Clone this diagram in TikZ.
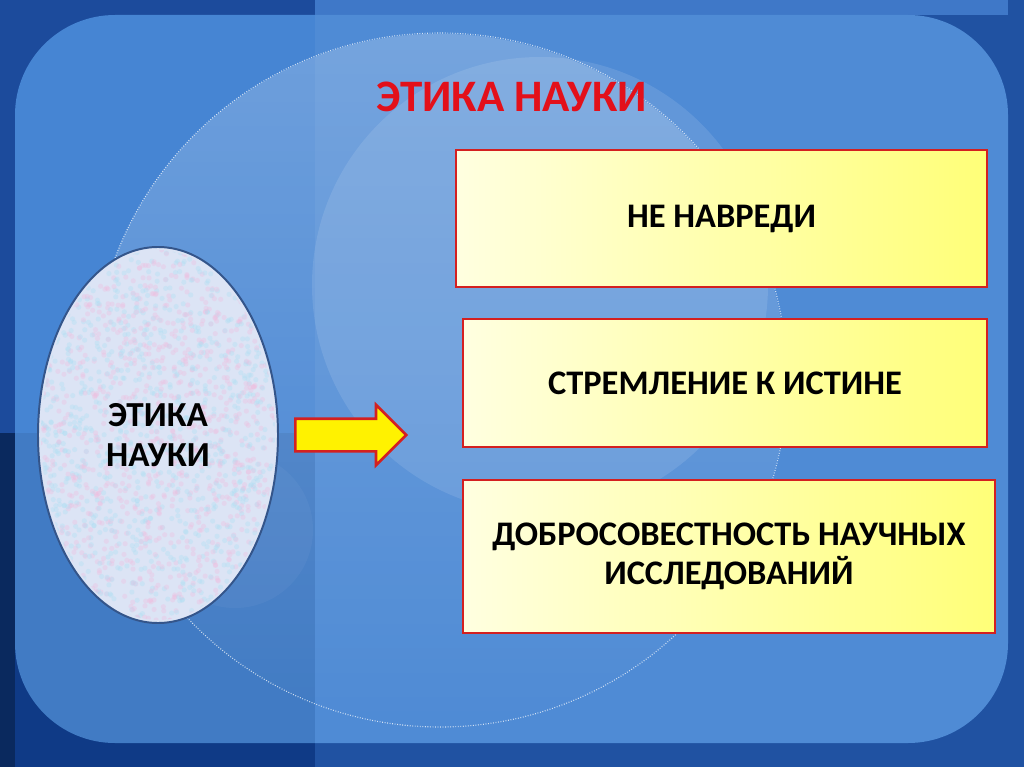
\documentclass[tikz,border=0pt]{standalone}
\usepackage{fontspec}
\setmainfont{Carlito}
\usepackage{tikz}
\usetikzlibrary{calc, shapes.geometric, shapes.arrows, positioning, fadings}

\definecolor{frameblue}{HTML}{2052A2}
\definecolor{framedark}{HTML}{1C4B9C}
\definecolor{framedeep}{HTML}{0F3A86}
\definecolor{framelight}{HTML}{3F78C8}
\definecolor{panelblue}{HTML}{4685D3}
\definecolor{titlered}{HTML}{E3101A}
\definecolor{boxred}{HTML}{D42020}
\definecolor{boxlight}{HTML}{FFFFE0}
\definecolor{boxyellow}{HTML}{FFFF78}
\definecolor{ovalfill}{HTML}{DCE4F5}
\definecolor{ovalline}{HTML}{34558A}
\definecolor{specklepink}{HTML}{F0BEDF}
\definecolor{specklecyan}{HTML}{AEDFF3}

\newcommand{\px}{0.025cm}

\tikzset{
    titlenode/.style = {draw=none, fill=none, inner sep=0em, text=titlered,
      font=\fontsize{32}{38}\selectfont\bfseries},
    textnode/.style  = {draw=none, fill=none, rectangle, inner sep=0em,
      font=\fontsize{25}{28.4}\selectfont\bfseries},
    boxnode/.style = {draw=boxred, line width=1.8pt, rectangle, left color=boxlight,
      right color=boxyellow, inner sep=0em, font=\fontsize{24.5}{28}\selectfont\bfseries},
    ovalnode/.style = {draw=ovalline, line width=1.4pt, ellipse, fill=ovalfill, inner sep=0em},
    arrownode/.style = {single arrow, draw=boxred, fill=yellow, line width=1.8pt,
      inner sep=0em, text height=30*\px, text depth=0pt, minimum height=111*\px,
      single arrow head extend=14*\px},
    every text node part/.style={align=center}
}

\begin{document}
\begin{tikzpicture}[x=0.025cm, y=-0.025cm]
    % frame and panel
    \fill[frameblue] (0,0) rectangle (1024,767);
    \fill[framedark] (0,0) rectangle (315,767);
    \fill[framedeep] (0,433) rectangle (315,767);
    \fill[framedeep!70!black] (0,433) rectangle (15,767);
    \fill[framelight] (315,0) rectangle (1008,15);
    \fill[panelblue, rounded corners=2.5cm] (15,15) rectangle (1008,743);

    \begin{scope}
        \clip[rounded corners=2.5cm] (15,15) rectangle (1008,743);
        \fill[black, opacity=0.07] (0,433) rectangle (315,767);
        \fill[white, opacity=0.05] (315,0) rectangle (1024,767);
        \fill[white, opacity=0.22, path fading=south] (440,380) circle (347);
        \fill[white, opacity=0.11] (540,285) circle (228);
        \fill[white, opacity=0.04] (235,530) circle (78);
        \draw[white, opacity=0.75, line width=0.8pt, dash pattern=on 0.6pt off 1.2pt]
            (440,380) circle (347);
    \end{scope}

    \node [name=title, titlenode] at (512,97) {ЭТИКА НАУКИ};

    % oval with speckles
    \node [name=oval, ovalnode, minimum width=240*\px, minimum height=376*\px] at (158,435) {};
    \begin{scope}
        \pgfmathsetseed{11}
        \clip (158,435) ellipse (117 and 185);
        \foreach \i in {1,...,1100} {
            \fill[specklepink, opacity=0.35] (38+240*rnd, 247+376*rnd) circle (2.6);
            \fill[specklecyan, opacity=0.35] (38+240*rnd, 247+376*rnd) circle (2.6);
        }
    \end{scope}
    \node [name=ovallabel, textnode] at (oval.center) {ЭТИКА\\НАУКИ};

    \node [name=arrow, arrownode, anchor=tail] at (294,435) {};

    % the three boxes
    \node [name=harm, boxnode, minimum width=531*\px, minimum height=137*\px]
        at (721.5,218.5) {НЕ НАВРЕДИ};
    \node [name=truth, boxnode, minimum width=524*\px, minimum height=128*\px]
        at (725,383) {СТРЕМЛЕНИЕ К ИСТИНЕ};
    \node [name=honesty, boxnode, minimum width=532*\px, minimum height=153*\px]
        at (729,556.5) {ДОБРОСОВЕСТНОСТЬ НАУЧНЫХ\\ИССЛЕДОВАНИЙ};
\end{tikzpicture}
\end{document}
